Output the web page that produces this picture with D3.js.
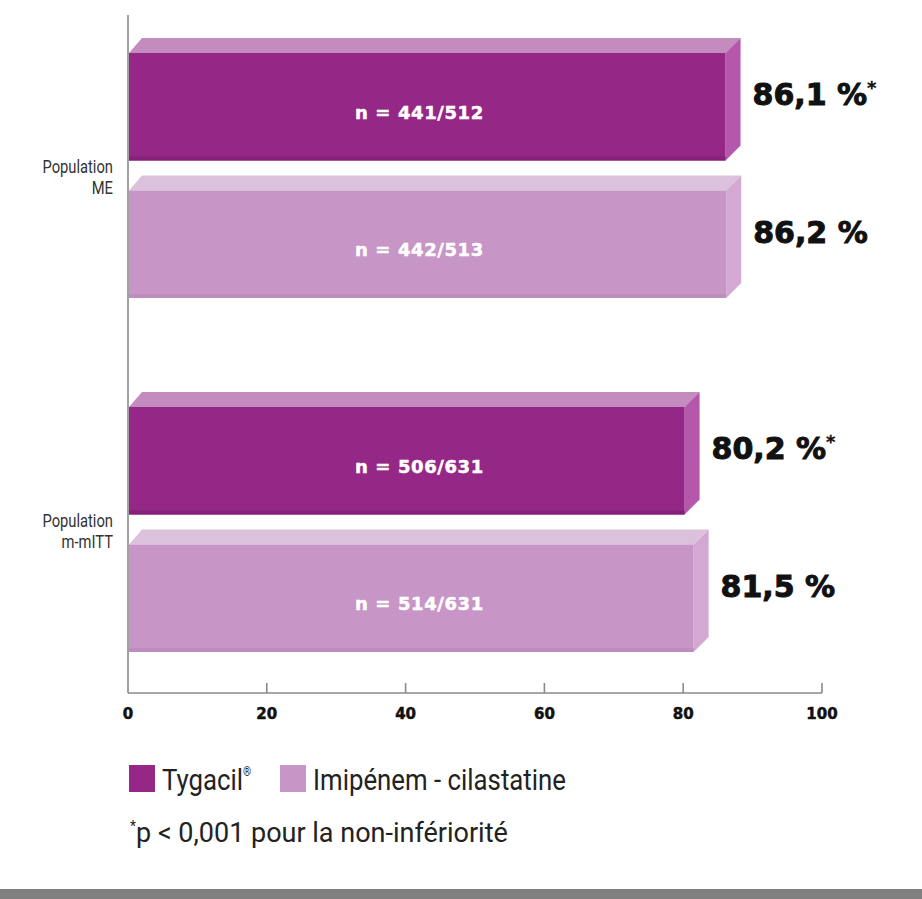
<!DOCTYPE html>
<html>
<head>
<meta charset="utf-8">
<script src="https://cdn.jsdelivr.net/npm/d3@7"></script>
<style>
  html, body { margin: 0; padding: 0; background: #fff; }
  svg { display: block; }
</style>
</head>
<body>
<div id="chart"></div>
<script>
// data
var groups = ["Population ME", "Population m-mITT"];
var groupLines = [["Population", "ME"], ["Population", "m-mITT"]];
var series = ["Tygacil", "Imipénem - cilastatine"];
var tygacilValues = [86.1, 80.2];
var imipenemValues = [86.2, 81.5];
var tygacilN = ["441/512", "506/631"];
var imipenemN = ["442/513", "514/631"];
var tygacilStar = [true, true];
var xTicks = [0, 20, 40, 60, 80, 100];

var W = 922, H = 899;
var depth = 15;
var narrow = "Roboto, 'Liberation Sans', sans-serif";

// colours per series: front, top, side
var colors = {
  "Tygacil": { front: "#952886", top: "#c48bbf", side: "#b557ab", edge: "#86207a" },
  "Imipénem - cilastatine": { front: "#c796c6", top: "#dcc1dc", side: "#d3a8d2", edge: "#bf8cbf" }
};

var rows = [];
groups.forEach(function(g, i) {
  rows.push({ group: g, series: series[0], value: tygacilValues[i], n: tygacilN[i], star: tygacilStar[i] });
  rows.push({ group: g, series: series[1], value: imipenemValues[i], n: imipenemN[i], star: false });
});

var fr = d3.formatLocale({ decimal: ",", thousands: " ", grouping: [3], currency: ["", ""] });
var fmt = fr.format(".1f");

var svg = d3.select("#chart").append("svg").attr("width", W).attr("height", H);

var x = d3.scaleLinear().domain([0, 100]).range([128, 822]);
var y0 = d3.scaleBand().domain(groups).range([38, 652]).paddingInner(0.2655).paddingOuter(0);
var y1 = d3.scaleBand().domain(series).range([0, y0.bandwidth()]).paddingInner(0.109).paddingOuter(0);
var bw = y1.bandwidth();

// axes
var axisY = 693;
svg.append("line").attr("x1", x(0)).attr("x2", x(0)).attr("y1", 15).attr("y2", axisY)
  .attr("stroke", "#8a8a8a").attr("stroke-width", 1.6);
svg.append("line").attr("x1", x(0)).attr("x2", x(100)).attr("y1", axisY).attr("y2", axisY)
  .attr("stroke", "#8a8a8a").attr("stroke-width", 1.6);
svg.selectAll(".tick").data(xTicks.slice(1)).enter().append("line")
  .attr("x1", function(d) { return x(d); }).attr("x2", function(d) { return x(d); })
  .attr("y1", axisY - 10).attr("y2", axisY)
  .attr("stroke", "#8a8a8a").attr("stroke-width", 1.6);
svg.selectAll(".ticklabel").data(xTicks).enter().append("text")
  .attr("x", function(d) { return x(d); }).attr("y", axisY + 26)
  .attr("text-anchor", "middle")
  .attr("font-family", "DejaVu Sans").attr("font-weight", "bold").attr("font-size", 15)
  .attr("stroke", "#111").attr("stroke-width", 0.5)
  .attr("fill", "#111").text(function(d) { return d; });

// bars
var bars = svg.selectAll(".bar").data(rows).enter().append("g").attr("class", "bar")
  .attr("transform", function(d) { return "translate(0," + (y0(d.group) + y1(d.series)) + ")"; });

bars.append("polygon").attr("fill", function(d) { return colors[d.series].top; })
  .attr("points", function(d) {
    var a = x(0) + 1, b = x(d.value);
    return [[a, depth], [a + depth - 2, 0], [b + depth, 0], [b, depth]].join(" ");
  });
bars.append("polygon").attr("fill", function(d) { return colors[d.series].side; })
  .attr("points", function(d) {
    var b = x(d.value);
    return [[b, depth], [b + depth, 0], [b + depth, bw - depth], [b, bw]].join(" ");
  });
bars.append("rect").attr("fill", function(d) { return colors[d.series].front; })
  .attr("x", x(0) + 1).attr("y", depth)
  .attr("width", function(d) { return x(d.value) - x(0) - 1; })
  .attr("height", bw - depth);
bars.append("rect").attr("fill", function(d) { return colors[d.series].edge; })
  .attr("x", x(0) + 1).attr("y", bw - 4)
  .attr("width", function(d) { return x(d.value) - x(0) - 1; })
  .attr("height", 4);

// n labels inside
bars.append("text")
  .attr("x", x(42)).attr("y", depth + (bw - depth) / 2 + 12)
  .attr("text-anchor", "middle")
  .attr("font-family", "DejaVu Sans").attr("font-weight", "bold").attr("font-size", 18)
  .attr("letter-spacing", 0.6)
  .attr("fill", "#fff").attr("stroke", "#fff").attr("stroke-width", 0.5)
  .text(function(d) { return "n = " + d.n; });

// value labels
var vl = bars.append("text")
  .attr("x", function(d) { return x(d.value) + depth + 12; })
  .attr("y", bw / 2 + 6)
  .attr("font-family", "DejaVu Sans").attr("font-weight", "bold").attr("font-size", 30)
  .attr("fill", "#111").attr("stroke", "#111").attr("stroke-width", 1);
vl.append("tspan").text(function(d) { return fmt(d.value) + " %"; });
vl.append("tspan").attr("font-size", 18).attr("dy", -11).attr("stroke-width", 0.3)
  .text(function(d) { return d.star ? "*" : ""; });

// group labels (condensed look)
groups.forEach(function(g, i) {
  groupLines[i].forEach(function(t, j) {
    svg.append("text")
      .attr("transform", "translate(113," + (y0(g) + y0.bandwidth() / 2 + 5 + j * 21) + ") scale(0.82,1)")
      .attr("text-anchor", "end")
      .attr("font-family", narrow).attr("font-size", 18)
      .attr("fill", "#333").text(t);
  });
});

// legend
var legX = [129, 280];
series.forEach(function(s, i) {
  svg.append("rect").attr("x", legX[i]).attr("y", 765).attr("width", 26).attr("height", 27)
    .attr("fill", colors[s].front);
  var t = svg.append("text")
    .attr("transform", "translate(" + (legX[i] + 33) + ",790) scale(0.86,1)")
    .attr("font-family", narrow).attr("font-size", 30)
    .attr("fill", "#222");
  t.append("tspan").text(s);
  if (i === 0) t.append("tspan").attr("font-size", 12).attr("dy", -14).text("®");
});

// footnote
var fn = svg.append("text").attr("transform", "translate(130,842)")
  .attr("font-family", narrow).attr("font-size", 27)
  .attr("fill", "#222");
fn.append("tspan").attr("font-size", 14).attr("dy", -11).text("*");
fn.append("tspan").attr("dy", 11).text("p < 0,001 pour la non-infériorité");

// bottom grey band
svg.append("rect").attr("x", 0).attr("y", 889).attr("width", W).attr("height", 10).attr("fill", "#808080");
</script>
</body>
</html>
